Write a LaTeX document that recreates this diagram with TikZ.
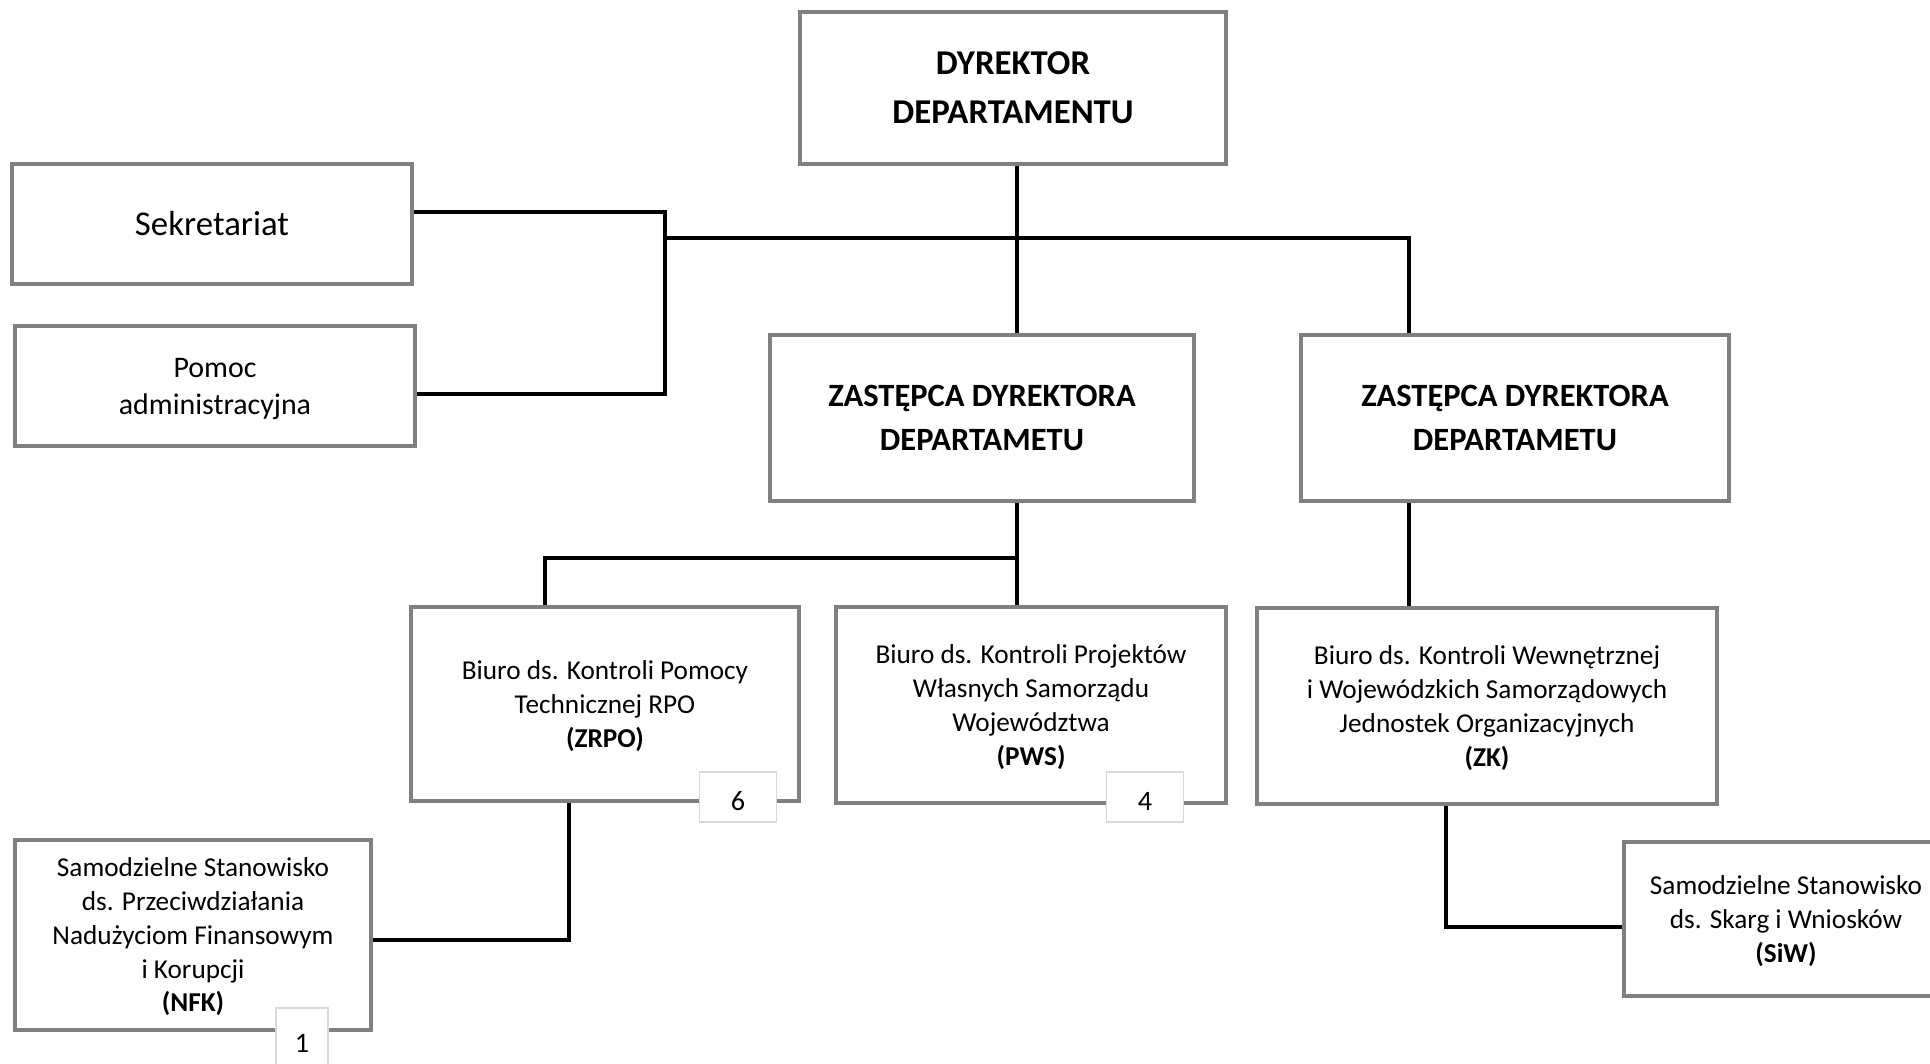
\documentclass[tikz,border=0pt]{standalone}
\usepackage{fontspec}
\setmainfont{Carlito}
\usepackage{tikz}

\begin{document}
\begin{tikzpicture}[x=0.01cm,y=0.01cm,
  unit/.style={draw=black!50,line width=1.15pt,fill=white,align=center},
  chief/.style={unit,font=\fontsize{9.9}{14}\selectfont\bfseries},
  deputy/.style={unit,font=\fontsize{9.25}{12.5}\selectfont\bfseries},
  office/.style={unit,text depth=0pt,font=\fontsize{7.75}{9.6}\selectfont},
  count/.style={draw=black!15,line width=0.4pt,fill=white,text height=7.8pt,text depth=0pt,font=\fontsize{8}{9.6}\selectfont},
  link/.style={line width=1pt,black}]
\tikzstyle{every node}+=[inner sep=0pt]
\clip (0,0) rectangle (1930,-1063);
\node [chief,minimum width=4.25cm,minimum height=1.51cm] (dir) at (1013,-88) {DYREKTOR\\DEPARTAMENTU};
\node [unit,font=\fontsize{9.9}{12}\selectfont,minimum width=3.99cm,minimum height=1.2cm] (sek) at (212,-224) {Sekretariat};
\node [unit,text depth=0pt,font=\fontsize{8.5}{10.5}\selectfont,minimum width=4cm,minimum height=1.2cm] (pom) at (215,-386) {Pomoc\\administracyjna};
\node [deputy,minimum width=4.23cm,minimum height=1.66cm] (z1) at (982,-418) {ZASTĘPCA DYREKTORA\\DEPARTAMETU};
\node [deputy,minimum width=4.28cm,minimum height=1.66cm] (z2) at (1515,-418) {ZASTĘPCA DYREKTORA\\DEPARTAMETU};
\node [office,minimum width=3.88cm,minimum height=1.94cm] (zrpo) at (605,-704) {Biuro ds. Kontroli Pomocy\\Technicznej RPO\\\textbf{(ZRPO)}};
\node [office,minimum width=3.9cm,minimum height=1.95cm] (pws) at (1031,-705) {Biuro ds. Kontroli Projektów\\Własnych Samorządu\\Województwa\\\textbf{(PWS)}};
\node [office,minimum width=4.6cm,minimum height=1.95cm] (zk) at (1487,-706) {Biuro ds. Kontroli Wewnętrznej\\i Wojewódzkich Samorządowych\\Jednostek Organizacyjnych\\\textbf{(ZK)}};
\node [office,minimum width=3.24cm,minimum height=1.53cm] (siw) at (1786,-919) {Samodzielne Stanowisko\\ds. Skarg i Wniosków\\\textbf{(SiW)}};
\node [office,minimum width=3.56cm,minimum height=1.89cm] (nfk) at (193,-935) {Samodzielne Stanowisko\\ds. Przeciwdziałania\\Nadużyciom Finansowym\\i Korupcji\\\textbf{(NFK)}};
\node [count,minimum width=0.77cm,minimum height=0.5cm] (n6) at (738,-797) {6};
\node [count,minimum width=0.77cm,minimum height=0.5cm] (n4) at (1145,-797) {4};
\node [count,minimum width=0.52cm,minimum height=0.62cm] (n1) at (302,-1039) {1};
\coordinate (sj) at (665,-212);
\coordinate (pj) at (665,-394);
\coordinate (bl) at (665,-238);
\coordinate (br) at (1409,-238);
\coordinate (zr) at (1017,-558);
\coordinate (zl) at (545,-558);
\coordinate (kj) at (1446,-927);
\coordinate (nj) at (569,-940);
\draw [link] (sek.east |- sj) -- (sj) -- (pj) -- (pom.east |- pj);
\draw [link] (bl) -- (br) -- (br |- z2.north);
\draw [link] (zr |- dir.south) -- (zr |- z1.north);
\draw [link] (zr |- z1.south) -- (zr) -- (zl) -- (zl |- zrpo.north);
\draw [link] (zr) -- (zr |- pws.north);
\draw [link] (br |- z2.south) -- (br |- zk.north);
\draw [link] (kj |- zk.south) -- (kj) -- (siw.west |- kj);
\draw [link] (nj |- zrpo.south) -- (nj) -- (nfk.east |- nj);
\end{tikzpicture}
\end{document}
